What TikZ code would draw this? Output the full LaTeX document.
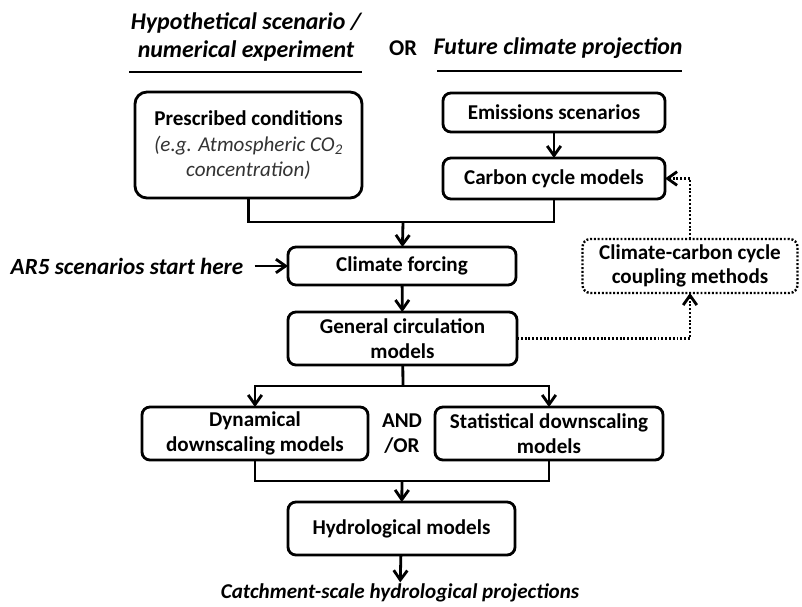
\documentclass[tikz,border=0pt]{standalone}
\usepackage{fontspec}
\setmainfont{Carlito}
\usetikzlibrary{arrows.meta}
\begin{document}
\begin{tikzpicture}[x=0.025cm, y=-0.025cm, line width=2pt,
    >={Straight Barb[length=2.4mm, width=3.4mm, line width=2pt]},
    txt/.style={font=\fontsize{15}{17.5}\selectfont\bfseries, align=center, inner sep=0pt},
    box/.style={txt, draw, rounded corners=0.2cm, outer sep=0pt},
    dotbox/.style={box, dash pattern=on 1.4pt off 1.3pt, line width=1.7pt},
    head/.style={txt, font=\fontsize{17}{19.5}\selectfont\bfseries\itshape},
    dotline/.style={->, dash pattern=on 1.4pt off 1.3pt, line width=1.7pt}]
    \useasboundingbox (0,0) rectangle (802,606);
    % headings
    \node[head] (hyp) at (246,37) {Hypothetical scenario /\\numerical experiment};
    \node[txt, font=\fontsize{16}{18}\selectfont\bfseries] (or) at (403,48) {OR};
    \node[head] (fut) at (558,48) {Future climate projection};
    \draw (129,72) -- (362,72);
    \draw (437,71) -- (682,71);
    % boxes
    \node[box, rounded corners=0.3cm, minimum width=5.675cm, minimum height=2.65cm] (presc) at (248.5,145)
        {Prescribed conditions\\[1pt]{\mdseries\itshape\color{black!80}(e.g. Atmospheric CO\textsubscript{2}}\\{\mdseries\itshape\color{black!80}concentration)}};
    \node[box, minimum width=5.55cm, minimum height=0.975cm] (emis) at (554,112.5) {Emissions scenarios};
    \node[box, minimum width=5.55cm, minimum height=1.025cm] (carbon) at (554,178.5) {Carbon cycle models};
    \node[box, minimum width=5.7cm, minimum height=0.95cm] (forcing) at (402,266) {Climate forcing};
    \node[head, font=\fontsize{16.5}{19}\selectfont\bfseries\itshape] (ar5) at (127,266) {AR5 scenarios start here};
    \node[dotbox, minimum width=5.375cm, minimum height=1.35cm] (coup) at (690,266) {Climate-carbon cycle\\coupling methods};
    \node[box, minimum width=5.725cm, minimum height=1.325cm] (gcm) at (402.5,338.5) {General circulation\\models};
    \node[box, minimum width=5.65cm, minimum height=1.325cm] (dyn) at (255,433.5) {Dynamical\\downscaling models};
    \node[txt] (andor) at (402,433.5) {AND\\/OR};
    \node[box, minimum width=5.7cm, minimum height=1.325cm] (stat) at (549,433.5) {Statistical downscaling\\models};
    \node[box, minimum width=5.675cm, minimum height=1.325cm] (hydro) at (401.5,528.5) {Hydrological models};
    \node[head, font=\fontsize{15}{17.5}\selectfont\bfseries\itshape] (catch) at (400,593) {Catchment-scale hydrological projections};
    % connectors
    \coordinate (j1) at (403,222);
    \coordinate (j2) at (403,386);
    \coordinate (j3) at (402,481);
    \draw[->] (emis) -- (carbon);
    \draw (presc.south) |- (carbon.south |- j1) -- (carbon.south);
    \draw[->] (j1) -- (forcing);
    \draw[->] (ar5.east) ++(10,0) -- (forcing);
    \draw[->] (forcing) -- (gcm);
    \draw (gcm) -- (j2);
    \draw[->] (j2) -| (dyn);
    \draw[->] (j2) -| (stat);
    \draw (dyn.south) |- (j3) -| (stat.south);
    \draw[->] (j3) -- (hydro);
    \draw[->] (hydro) -- (catch);
    \draw[dotline] (gcm.east) -| (coup.south);
    \draw[dotline] (coup.north) |- (carbon.east);
\end{tikzpicture}
\end{document}
